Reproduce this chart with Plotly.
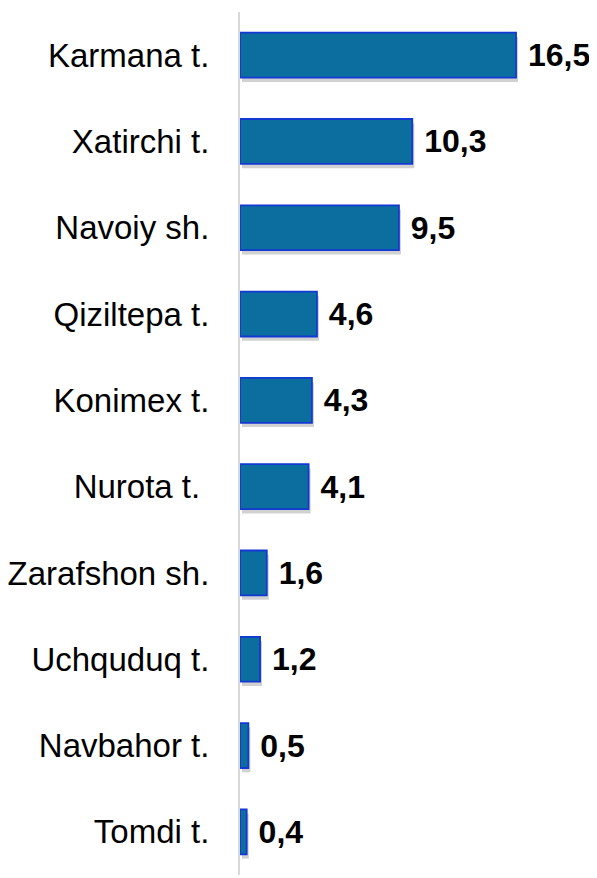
import plotly.graph_objects as go

categories = ["Karmana t.", "Xatirchi t.", "Navoiy sh.", "Qiziltepa t.", "Konimex t.",
              "Nurota t.\u00a0", "Zarafshon sh.", "Uchquduq t.", "Navbahor t.", "Tomdi t."]
values = [16.5, 10.3, 9.5, 4.6, 4.3, 4.1, 1.6, 1.2, 0.5, 0.4]

# the page body adds an 8px margin, so the figure is 8px smaller and shifted
W, H = 589, 870
ML, MR, MT, MB = 232, 0, 4, 3
BAR_W = 0.52

fig = go.Figure()

# soft shadow
fig.add_trace(go.Bar(
    y=categories, x=values, orientation="h", base=0.12,
    width=BAR_W, offset=-BAR_W / 2 + 0.05,
    marker=dict(color="rgba(0,0,0,0.18)", line=dict(width=0)),
    hoverinfo="skip", showlegend=False,
))

fig.add_trace(go.Bar(
    y=categories, x=values, orientation="h",
    width=BAR_W,
    marker=dict(color="#0B6E9E", line=dict(color="#1438D4", width=1.8)),
    texttemplate="\u00a0%{x:.1f}", textposition="outside",
    textfont=dict(family="Liberation Sans, Arial, sans-serif", size=32, color="#000000", weight="bold"),
    constraintext="none", cliponaxis=False, showlegend=False,
))

fig.update_layout(
    width=W, height=H,
    margin=dict(l=ML, r=MR, t=MT, b=MB, autoexpand=False),
    paper_bgcolor="white", plot_bgcolor="white",
    barmode="overlay",
    separators=",.",
    font=dict(family="Liberation Sans, Arial, sans-serif", color="#000000"),
    xaxis=dict(range=[0, 21.34], visible=False, showgrid=False, zeroline=False, automargin=False),
    yaxis=dict(
        autorange="reversed", showgrid=False, zeroline=False, automargin=False,
        showline=True, linecolor="#D9D9D9", linewidth=2,
        ticks="", ticklabelstandoff=22,
        tickfont=dict(family="Liberation Sans, Arial, sans-serif", size=33, color="#000000"),
    ),
)

fig.write_html("out.html")
